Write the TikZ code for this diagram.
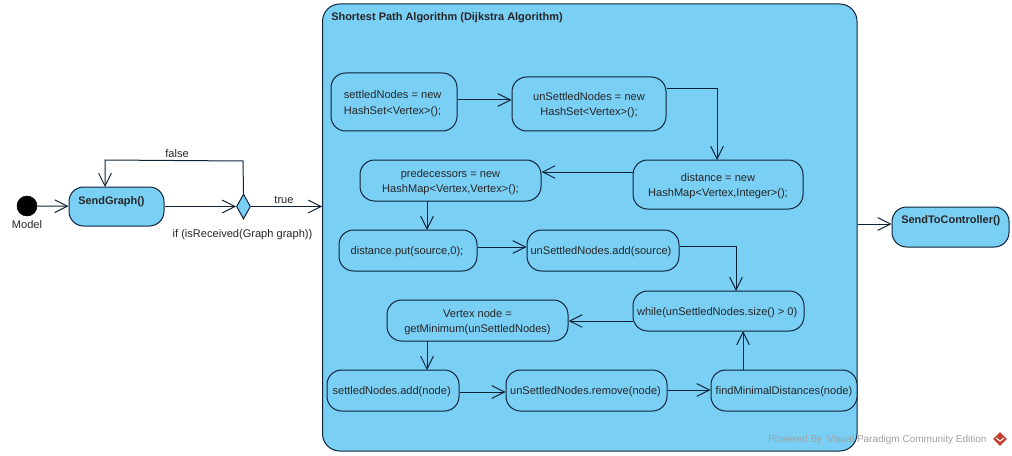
\documentclass[tikz,border=0pt]{standalone}
\usepackage{fontspec}
\setmainfont{Liberation Sans}
\usetikzlibrary{shapes.geometric,arrows.meta,calc}
\definecolor{fillblue}{HTML}{7ACFF5}
\definecolor{linedark}{HTML}{0E2338}
\definecolor{wm}{HTML}{A0A0A0}
\definecolor{logored}{HTML}{C4402F}
\tikzset{
 every node/.style={font=\fontsize{8.3}{11.5}\selectfont,text=black!85},
 act/.style={draw=linedark,line width=0.75pt,fill=fillblue,rounded corners=11pt,inner sep=0pt,align=center},
 acttext/.style={inner sep=0pt,align=center,yshift=-1.1pt},
 conn/.style={draw=linedark,line width=0.75pt,-{Straight Barb[length=9.5pt,width=9.5pt,line width=0.75pt]}},
 lbl/.style={inner sep=0pt},
 boldt/.style={inner sep=0pt,font=\fontsize{8.22}{11.5}\selectfont\bfseries}
}
\newcommand{\act}[6]{\node[act,minimum width=#4*0.75pt,minimum height=#5*0.75pt] (#1) at (#2,#3) {};\node[acttext] (#1t) at (#1) {#6};}
\begin{document}
\begin{tikzpicture}[x=0.75pt,y=-0.75pt]
\useasboundingbox (0,0) rectangle (1012,456);
\node[act,rounded corners=13pt,minimum width=534.5*0.75pt,minimum height=447*0.75pt] (big) at (589.75,227.5) {};
\node[boldt,anchor=west] (title) at (331,17.5) {Shortest Path Algorithm (Dijkstra Algorithm)};
\node[circle,fill=black,draw=black,minimum size=15pt,inner sep=0pt] (init) at (27,206) {};
\node[lbl] (model) at (27,225) {Model};
\node[act,minimum width=95*0.75pt,minimum height=39*0.75pt] (send) at (116.5,206.5) {};
\node[boldt,anchor=west] (sendt) at (78,201.5) {SendGraph()};
\node[diamond,draw=linedark,line width=0.75pt,fill=fillblue,minimum width=14*0.75pt,minimum height=25*0.75pt,inner sep=0pt,aspect=0.56] (dec) at (243.5,206.5) {};
\node[act,minimum width=117*0.75pt,minimum height=40*0.75pt] (ctrl) at (950.5,227) {};
\node[boldt,anchor=west] (ctrlt) at (901,221) {SendToController()};
\node[lbl] (lf) at (177,154) {false};
\node[lbl] (lt) at (284,200) {true};
\node[lbl] (lif) at (242.5,235) {if (isReceived(Graph graph))};
\coordinate (fc) at (243,161);
\coordinate (fd) at (105,160);
\coordinate (fe) at (105,187);
\act{a}{394}{102}{126}{58}{\begin{tabular}{@{}l@{}}settledNodes = new\\HashSet<Vertex>();\end{tabular}\hspace*{2pt}}
\act{b}{589}{104}{154}{54}{unSettledNodes = new\\HashSet<Vertex>();}
\act{c}{718}{184.5}{170}{49}{distance = new\\HashMap<Vertex,Integer>();}
\act{d}{450.5}{180.5}{181}{41}{predecessors = new\\HashMap<Vertex,Vertex>();}
\act{e}{408}{250.5}{138}{41}{distance.put(source,0);\hspace*{1.5pt}}
\act{f}{603}{250.5}{152}{41}{unSettledNodes.add(source)\hspace*{3pt}}
\act{g}{718.5}{311}{171}{40}{while(unSettledNodes.size() > 0)\hspace*{2pt}}
\act{h}{477.5}{320.5}{181}{41}{Vertex node =\\getMinimum(unSettledNodes)}
\act{i}{393}{390.5}{132}{41}{settledNodes.add(node)\hspace*{2pt}}
\act{j}{586.5}{390.5}{161}{41}{unSettledNodes.remove(node)\hspace*{1.5pt}}
\act{k}{784}{390.5}{146}{41}{findMinimalDistances(node)}
\draw[conn] (init) -- (send);
\draw[conn] (send) -- (dec);
\draw[conn] (dec.north) -- (fc) -- (fd) -- (fe);
\draw[conn] (dec) -- (big.west |- dec);
\coordinate (bx) at (big.east |- 0,224);
\draw[conn] (bx) -- (ctrl.west |- bx);
\draw[conn] (a.east |- 0,100) -- (b.west |- 0,100);
\draw[conn] (b.east |- 0,89) -- (717,89) -- (717,160);
\draw[conn] (c.west |- 0,172) -- (d.east |- 0,172);
\draw[conn] (427,201) -- (427,230);
\draw[conn] (e.east |- 0,247) -- (f.west |- 0,247);
\draw[conn] (f.east |- 0,246) -- (736,246) -- (736,291);
\draw[conn] (g.west |- 0,321) -- (h.east |- 0,321);
\draw[conn] (427,341) -- (427,370);
\draw[conn] (i.east |- 0,392) -- (j.west |- 0,392);
\draw[conn] (j.east |- 0,390) -- (k.west |- 0,390);
\draw[conn] (743,370) -- (743,331);
\node[lbl,anchor=west,text=wm,font=\fontsize{7.5}{10}\selectfont] (wmk) at (768,440) {Powered By `Visual Paradigm Community Edition};
\node[diamond,fill=logored,inner sep=0pt,minimum size=10.5pt] (logo) at (1000,439) {};
\draw[white,line width=0.8pt] (996,438) -- (1000,441) -- (1004,438);
\end{tikzpicture}
\end{document}
